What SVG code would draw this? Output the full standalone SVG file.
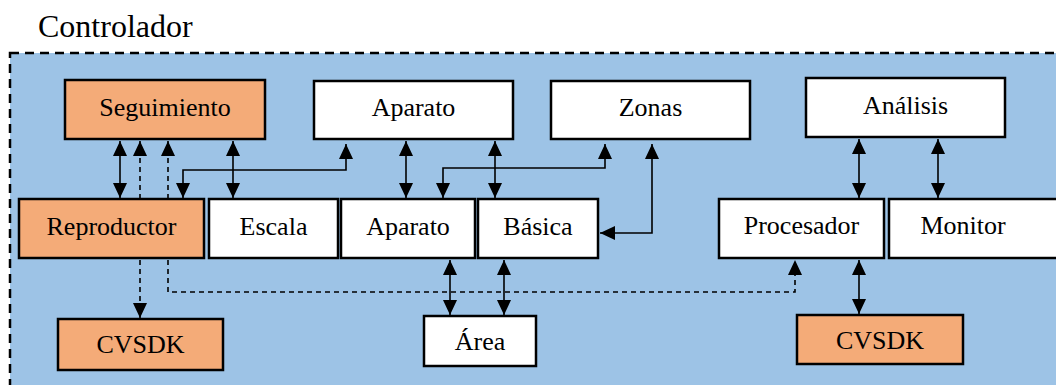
<svg xmlns="http://www.w3.org/2000/svg" width="1056" height="385" viewBox="0 0 1056 385">
  <style>
    .panel { fill: #9DC3E6; stroke: #000; stroke-width: 2.5; stroke-dasharray: 9 6; }
    .box { fill: #FFFFFF; stroke: #000; stroke-width: 2.5; }
    .box.sdk { fill: #F4AB78; }
    text { font-family: 'Liberation Serif', 'Times New Roman', Times, 'DejaVu Serif', serif; fill: #000; }
    .lbl { font-size: 26px; text-anchor: middle; }
    .title { font-size: 32px; }
    .link { fill: none; stroke: #000; stroke-width: 1.6; }
    .link.dash { stroke-dasharray: 5 4; }
  </style>
  <defs>
    <marker id="head" markerUnits="userSpaceOnUse" markerWidth="16" markerHeight="14" refX="15" refY="7" orient="auto-start-reverse">
      <path d="M0,0 L15,7 L0,14 z" fill="#000"/>
    </marker>
  </defs>

  <!-- controller container -->
  <g id="controlador">
    <text class="title" x="38" y="37" font-family="Liberation Serif, serif">Controlador</text>
    <rect class="panel" x="10" y="53" width="1070" height="350"/>
  </g>

  <!-- components -->
  <g id="seguimiento">
    <rect class="box sdk" x="65" y="80" width="200" height="59"/>
    <text class="lbl" x="165" y="116">Seguimiento</text>
  </g>
  <g id="aparato-sup">
    <rect class="box" x="314" y="81" width="199" height="58"/>
    <text class="lbl" x="413.5" y="116">Aparato</text>
  </g>
  <g id="zonas">
    <rect class="box" x="551" y="81" width="199" height="58"/>
    <text class="lbl" x="650.5" y="116">Zonas</text>
  </g>
  <g id="analisis">
    <rect class="box" x="806" y="78" width="199" height="59"/>
    <text class="lbl" x="905.5" y="114">Análisis</text>
  </g>
  <g id="reproductor">
    <rect class="box sdk" x="19" y="199" width="185" height="59"/>
    <text class="lbl" x="111.5" y="235">Reproductor</text>
  </g>
  <g id="escala">
    <rect class="box" x="209" y="199" width="129" height="59"/>
    <text class="lbl" x="273.5" y="235">Escala</text>
  </g>
  <g id="aparato-inf">
    <rect class="box" x="341" y="199" width="134" height="59"/>
    <text class="lbl" x="408" y="235">Aparato</text>
  </g>
  <g id="basica">
    <rect class="box" x="478" y="199" width="120" height="59"/>
    <text class="lbl" x="538" y="235">Básica</text>
  </g>
  <g id="procesador">
    <rect class="box" x="719" y="199" width="165" height="59"/>
    <text class="lbl" x="801.5" y="234">Procesador</text>
  </g>
  <g id="monitor">
    <rect class="box" x="889" y="199" width="180" height="59"/>
    <text class="lbl" x="963" y="234">Monitor</text>
  </g>
  <g id="cvsdk-izq">
    <rect class="box sdk" x="58" y="319" width="165" height="51"/>
    <text class="lbl" x="140.5" y="353">CVSDK</text>
  </g>
  <g id="area">
    <rect class="box" x="424" y="316" width="112" height="50"/>
    <text class="lbl" x="480" y="350">Área</text>
  </g>
  <g id="cvsdk-der">
    <rect class="box sdk" x="797" y="315" width="166" height="49"/>
    <text class="lbl" x="880" y="349">CVSDK</text>
  </g>

  <!-- connectors -->
  <g id="connectors">
    <line class="link" x1="120" y1="141" x2="120" y2="198" marker-start="url(#head)" marker-end="url(#head)"/>
    <line class="link dash" x1="140" y1="199" x2="140" y2="141" marker-end="url(#head)"/>
    <line class="link dash" x1="168" y1="199" x2="168" y2="141" marker-end="url(#head)"/>
    <line class="link" x1="233" y1="141" x2="233" y2="198" marker-start="url(#head)" marker-end="url(#head)"/>
    <path class="link" d="M183,198 V170 H346 V144" marker-start="url(#head)" marker-end="url(#head)"/>
    <line class="link" x1="406" y1="141" x2="406" y2="198" marker-start="url(#head)" marker-end="url(#head)"/>
    <line class="link" x1="495" y1="141" x2="495" y2="198" marker-start="url(#head)" marker-end="url(#head)"/>
    <path class="link" d="M443,198 V168 H605 V144" marker-start="url(#head)" marker-end="url(#head)"/>
    <path class="link" d="M652,144 V233 H600" marker-start="url(#head)" marker-end="url(#head)"/>
    <line class="link" x1="859" y1="139" x2="859" y2="198" marker-start="url(#head)" marker-end="url(#head)"/>
    <line class="link" x1="938" y1="139" x2="938" y2="198" marker-start="url(#head)" marker-end="url(#head)"/>
    <line class="link dash" x1="140" y1="260" x2="140" y2="318" marker-end="url(#head)"/>
    <path class="link dash" d="M168,260 V292 H795 V260" marker-end="url(#head)"/>
    <line class="link" x1="450" y1="260" x2="450" y2="315" marker-start="url(#head)" marker-end="url(#head)"/>
    <line class="link" x1="504" y1="260" x2="504" y2="315" marker-start="url(#head)" marker-end="url(#head)"/>
    <line class="link" x1="859" y1="260" x2="859" y2="314" marker-start="url(#head)" marker-end="url(#head)"/>
  </g>
</svg>
